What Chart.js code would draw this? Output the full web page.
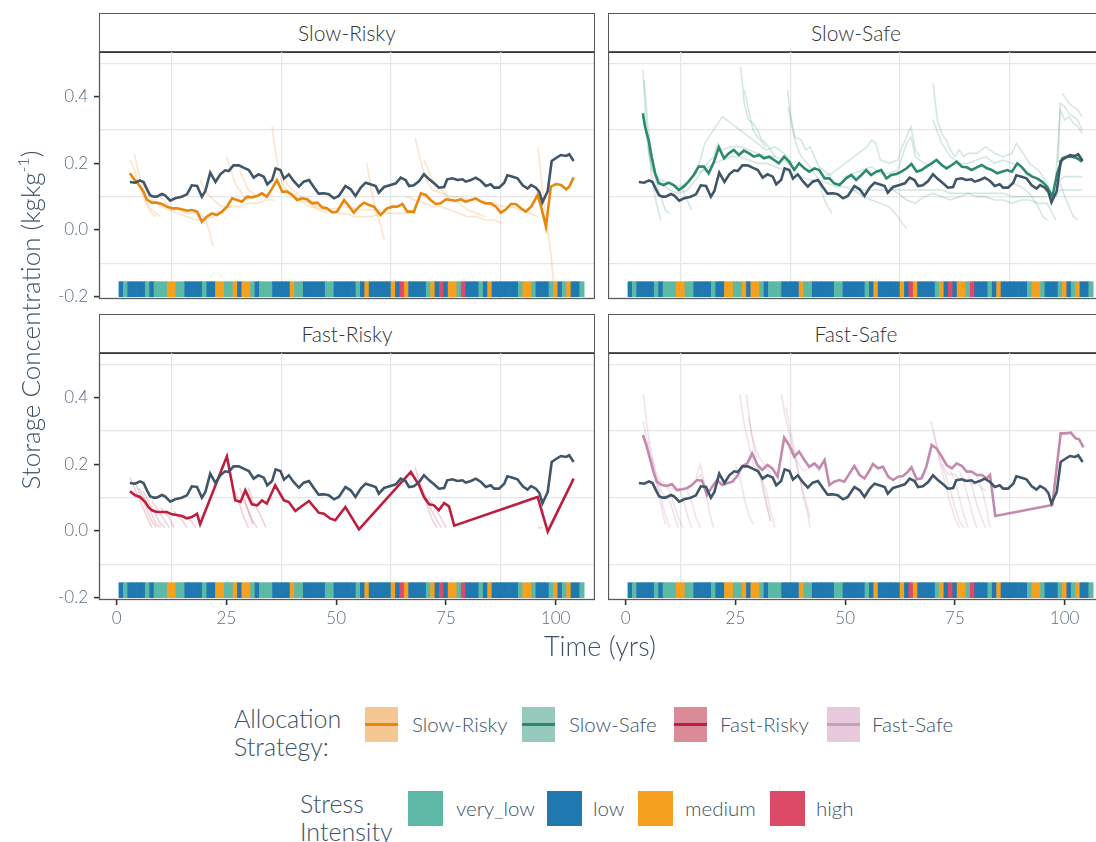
<!DOCTYPE html>
<html><head><meta charset="utf-8">
<script src="https://cdn.jsdelivr.net/npm/chart.js@4.4.0/dist/chart.umd.min.js"></script>
<style>
html,body{margin:0;padding:0;width:1096px;height:842px;overflow:hidden;background:#fff;font-family:Lato,"Open Sans",sans-serif;}
.abs{position:absolute;}
.strip{position:absolute;box-sizing:border-box;border:1.5px solid #5a5a5a;border-bottom:2.5px solid #333;background:#fff;color:#333;font-size:21px;font-weight:300;display:flex;align-items:center;justify-content:center;}
.ytitle{position:absolute;left:-220px;top:303px;width:500px;height:34px;line-height:34px;text-align:center;font-size:26px;font-weight:300;color:#3c5166;transform:rotate(-90deg);white-space:nowrap;}
.ytitle sup{font-size:16px;vertical-align:11px;line-height:0;}
.xtitle{position:absolute;left:450px;top:629px;width:300px;text-align:center;font-size:27px;font-weight:300;color:#3c5166;line-height:34px;}
.lgtitle{position:absolute;font-size:25px;font-weight:300;line-height:28px;color:#3c5166;}
.key{position:absolute;width:33px;height:35px;}
.key i{position:absolute;left:0;right:0;top:16px;height:2.5px;display:block;}
.lab{position:absolute;font-size:20.5px;font-weight:300;color:#3c5166;line-height:24px;}
</style></head>
<body>
<div class="strip" style="left:99px;top:13px;width:496px;height:40px;">Slow-Risky</div>
<div class="strip" style="left:608px;top:13px;width:496px;height:40px;">Slow-Safe</div>
<div class="strip" style="left:99px;top:314px;width:496px;height:40px;">Fast-Risky</div>
<div class="strip" style="left:608px;top:314px;width:496px;height:40px;">Fast-Safe</div>
<canvas id="c1" class="abs" width="565" height="262" style="left:30px;top:51px"></canvas>
<canvas id="c2" class="abs" width="496" height="262" style="left:608px;top:51px"></canvas>
<canvas id="c3" class="abs" width="565" height="288" style="left:30px;top:352px"></canvas>
<canvas id="c4" class="abs" width="496" height="288" style="left:608px;top:352px"></canvas>
<div class="ytitle">Storage Concentration (kgkg<sup>-1</sup>)</div>
<div class="xtitle">Time (yrs)</div>

<div class="lgtitle" style="left:234px;top:704px;">Allocation<br>Strategy:</div>
<div class="key" style="left:365px;top:707px;background:#F5C893;"><i style="background:#E8870E"></i></div>
<div class="lab" style="left:412px;top:712px;">Slow-Risky</div>
<div class="key" style="left:522px;top:707px;background:#97C9BD;"><i style="background:#2B8A6E"></i></div>
<div class="lab" style="left:569px;top:712px;">Slow-Safe</div>
<div class="key" style="left:674px;top:707px;background:#D98C98;"><i style="background:#C0203F"></i></div>
<div class="lab" style="left:720px;top:712px;">Fast-Risky</div>
<div class="key" style="left:827px;top:707px;background:#E6C9DA;"><i style="background:#CB9DBA"></i></div>
<div class="lab" style="left:872px;top:712px;">Fast-Safe</div>

<div class="lgtitle" style="left:300px;top:789px;">Stress<br>Intensity</div>
<div class="key" style="left:408px;top:791px;width:35px;background:#5DB9A6;"></div>
<div class="lab" style="left:456px;top:796px;">very_low</div>
<div class="key" style="left:547px;top:791px;width:35px;background:#1F78B0;"></div>
<div class="lab" style="left:593px;top:796px;">low</div>
<div class="key" style="left:638px;top:791px;width:35px;background:#F5A01F;"></div>
<div class="lab" style="left:685px;top:796px;">medium</div>
<div class="key" style="left:770px;top:791px;width:35px;background:#DC4A68;"></div>
<div class="lab" style="left:816px;top:796px;">high</div>

<script>
// ---------------- DATA ----------------
// stress intensity per year 1..106 (V=very_low, L=low, M=medium, H=high)
const stressYears = Array.from({length:106},(_,i)=>i+1);
const stressCodes = [
 'L','V','L','L','L','L','V','L','V','V',
 'V','M','M','V','V','L','L','L','L','V',
 'L','L','M','M','V','V','M','L','M','M',
 'V','L','V','V','V','L','L','L','L','M',
 'V','V','L','L','L','L','L','V','V','L',
 'L','L','L','L','V','L','M','L','L','L',
 'L','L','M','L','H','M','L','L','L','L',
 'V','M','L','H','L','M','M','V','H','L',
 'L','L','V','L','M','L','L','L','L','L',
 'L','V','M','M','V','L','L','L','V','M',
 'L','V','M','L','L','V'];
const stressBand = [-0.2, -0.155];

// baseline (dark slate) series, same in every panel
const baseYears = [3.0,4.2,5.3,6.1,6.9,7.6,8.4,9.1,10.3,11.0,12.2,13.3,14.8,16.0,17.1,18.3,19.4,20.2,21.3,22.5,23.6,24.7,25.5,26.6,27.8,28.9,30.1,31.2,32.3,33.5,34.3,35.4,36.2,37.3,38.1,39.2,40.3,41.5,42.6,43.8,44.9,46.0,47.2,48.3,49.5,50.6,52.1,53.3,54.4,55.6,56.7,57.8,59.0,59.7,60.9,62.4,63.6,64.7,65.8,66.6,67.7,68.9,70.0,71.2,72.3,73.4,74.6,75.3,76.5,77.6,78.8,79.5,80.7,81.8,83.0,84.1,85.2,86.0,87.1,88.3,89.0,90.2,91.3,92.5,93.6,94.4,95.5,96.3,97.0,98.2,99.1,100.1,101.2,102.4,103.1,104.1];
const baseVals = [0.144,0.142,0.149,0.144,0.122,0.104,0.100,0.100,0.108,0.104,0.088,0.095,0.100,0.107,0.134,0.132,0.100,0.117,0.172,0.144,0.167,0.179,0.177,0.194,0.194,0.187,0.180,0.157,0.167,0.160,0.137,0.150,0.185,0.180,0.154,0.167,0.147,0.130,0.145,0.150,0.129,0.109,0.110,0.107,0.095,0.102,0.132,0.122,0.102,0.127,0.142,0.137,0.132,0.112,0.129,0.135,0.140,0.157,0.150,0.132,0.134,0.147,0.167,0.152,0.140,0.127,0.129,0.152,0.155,0.150,0.152,0.145,0.150,0.157,0.147,0.132,0.137,0.127,0.127,0.142,0.164,0.160,0.155,0.134,0.124,0.135,0.127,0.114,0.083,0.117,0.207,0.216,0.225,0.222,0.227,0.207];

// Slow-Risky main
const srYears = [3.0,3.8,4.9,6.1,6.8,8.0,9.1,10.3,11.4,12.6,13.7,14.8,16.0,17.1,18.3,19.4,20.5,21.7,22.8,24.0,25.1,26.3,27.4,28.5,29.7,30.8,32.0,33.1,34.2,35.4,36.5,37.7,38.8,40.0,41.1,42.2,43.4,44.5,45.7,46.8,47.9,49.1,50.2,51.8,52.9,54.0,55.2,56.3,57.5,58.6,60.1,61.6,62.8,63.9,65.1,66.2,67.7,69.3,70.4,71.5,72.7,73.8,75.0,76.1,77.2,78.4,79.5,80.7,81.8,83.0,84.1,85.2,86.4,87.5,88.7,89.8,90.9,92.1,93.2,94.4,95.9,96.7,97.8,98.9,100.1,101.2,102.4,103.1,104.1];
const srVals = [0.170,0.155,0.138,0.115,0.092,0.082,0.082,0.078,0.070,0.065,0.065,0.062,0.058,0.060,0.055,0.025,0.040,0.050,0.045,0.055,0.070,0.095,0.090,0.085,0.100,0.098,0.102,0.110,0.100,0.125,0.150,0.115,0.115,0.105,0.090,0.095,0.092,0.080,0.082,0.068,0.065,0.053,0.055,0.090,0.072,0.052,0.070,0.082,0.075,0.070,0.045,0.065,0.070,0.070,0.078,0.055,0.055,0.110,0.105,0.090,0.078,0.080,0.092,0.090,0.088,0.092,0.085,0.090,0.095,0.085,0.080,0.080,0.070,0.052,0.062,0.078,0.078,0.065,0.055,0.070,0.105,0.070,0.010,0.130,0.138,0.135,0.122,0.130,0.158];

// Slow-Safe main
const ssYears = [3.9,4.4,5.2,5.9,6.7,7.5,8.6,9.8,10.9,12.1,13.2,14.3,15.5,16.6,17.8,18.9,20.1,21.2,22.4,23.5,24.6,25.8,26.9,28.1,29.2,30.4,31.5,32.7,33.8,34.9,36.1,37.2,38.4,39.5,40.7,41.8,43.0,44.1,45.3,46.4,47.5,48.7,50.2,51.4,52.5,53.7,54.8,55.9,57.1,58.2,59.4,60.5,61.7,62.8,64.0,65.1,66.3,67.4,68.5,69.7,70.8,72.0,73.1,74.3,75.4,76.6,77.7,78.8,80.0,81.1,82.3,83.4,84.6,85.7,86.9,88.0,89.2,90.3,91.4,92.6,93.7,94.9,96.0,97.2,98.3,99.5,100.6,101.8,102.9,104.0];
const ssVals = [0.350,0.310,0.270,0.220,0.170,0.140,0.135,0.142,0.135,0.120,0.130,0.145,0.165,0.190,0.190,0.170,0.205,0.248,0.215,0.230,0.240,0.225,0.238,0.230,0.220,0.225,0.215,0.220,0.210,0.200,0.220,0.205,0.180,0.200,0.185,0.175,0.185,0.180,0.155,0.155,0.140,0.135,0.155,0.165,0.150,0.165,0.180,0.165,0.175,0.180,0.155,0.165,0.168,0.175,0.185,0.198,0.175,0.180,0.190,0.200,0.210,0.195,0.185,0.195,0.205,0.190,0.188,0.180,0.188,0.195,0.185,0.180,0.170,0.175,0.180,0.175,0.200,0.188,0.170,0.160,0.155,0.145,0.130,0.100,0.170,0.215,0.220,0.220,0.215,0.205];

// Fast-Risky main
const frYears = [3.0,4.2,5.3,6.5,7.2,8.0,9.1,10.3,11.4,12.6,13.7,14.8,16.0,17.1,18.3,19.0,25.1,27.0,28.2,29.3,30.8,32.0,33.1,34.2,36.1,38.1,39.2,40.7,41.9,43.8,46.0,47.2,48.7,49.8,52.1,55.2,67.0,68.9,70.0,71.2,72.3,73.4,74.6,75.7,76.9,95.9,98.2,104.1];
const frVals = [0.119,0.107,0.102,0.087,0.072,0.062,0.057,0.057,0.057,0.050,0.048,0.045,0.038,0.042,0.052,0.020,0.224,0.092,0.087,0.122,0.080,0.077,0.092,0.082,0.137,0.092,0.087,0.060,0.072,0.090,0.055,0.052,0.037,0.032,0.072,0.005,0.177,0.137,0.102,0.080,0.077,0.062,0.084,0.074,0.016,0.102,-0.002,0.157];

// Fast-Safe main
const fsYears = [3.9,4.8,5.6,6.3,7.1,8.2,9.4,10.5,11.7,12.8,13.9,15.1,16.2,17.4,18.5,19.7,20.8,22.0,23.1,24.3,25.4,26.6,27.7,28.8,30.0,31.1,32.3,33.4,34.6,36.1,37.2,38.4,39.5,40.7,41.8,43.0,44.1,45.3,46.4,47.5,48.7,49.8,51.0,52.1,53.3,54.4,55.6,56.3,57.5,58.6,59.8,60.9,62.1,63.2,64.3,65.1,66.3,67.4,68.5,69.7,70.8,72.0,73.1,74.3,75.4,76.6,77.7,78.8,80.0,81.1,82.3,83.0,84.2,97.2,99.1,100.2,101.4,102.5,103.3,104.3];
const fsVals = [0.288,0.253,0.213,0.178,0.148,0.138,0.135,0.141,0.123,0.125,0.128,0.138,0.153,0.151,0.108,0.133,0.153,0.138,0.143,0.148,0.165,0.195,0.203,0.233,0.198,0.183,0.198,0.188,0.163,0.280,0.258,0.223,0.238,0.213,0.193,0.203,0.188,0.213,0.138,0.148,0.153,0.148,0.173,0.195,0.168,0.158,0.183,0.201,0.188,0.193,0.163,0.153,0.163,0.165,0.178,0.191,0.155,0.158,0.193,0.258,0.248,0.223,0.198,0.188,0.203,0.195,0.178,0.178,0.168,0.168,0.158,0.168,0.045,0.078,0.293,0.293,0.295,0.278,0.275,0.251];

// faint ensemble lines ([year, value] pairs)
const srFaint = [
 [[3,0.21],[4,0.18],[5,0.14],[6,0.10],[7,0.07],[8,0.05],[9,0.04]],
 [[4,0.23],[5,0.17],[6,0.12],[7,0.08],[8,0.06],[10,0.04]],
 [[6,0.14],[8,0.09],[10,0.07],[12,0.06],[14,0.05],[16,0.04],[18,0.03],[20,0.03],[22,0.04],[24,0.06],[26,0.07],[28,0.07],[30,0.08],[32,0.08],[34,0.09],[36,0.09]],
 [[10,0.10],[12,0.07],[14,0.06],[16,0.05],[18,0.05],[20,0.04],[21,0.0],[22,-0.05]],
 [[19,0.15],[20,0.12],[22,0.09],[24,0.07],[26,0.07]],
 [[25,0.22],[26,0.18],[27,0.14],[28,0.12],[29,0.10],[30,0.09]],
 [[28,0.18],[29,0.15],[30,0.12],[32,0.10]],
 [[35.4,0.31],[36,0.25],[37,0.17],[38,0.13],[40,0.11],[42,0.09],[44,0.08],[46,0.07],[48,0.06],[50,0.05],[52,0.05],[54,0.04],[56,0.04],[58,0.04],[60,0.05],[62,0.05],[64,0.05],[66,0.05],[68,0.05]],
 [[38,0.15],[40,0.12],[42,0.10],[44,0.08],[46,0.06],[48,0.05]],
 [[40,0.10],[44,0.07],[48,0.06],[52,0.07],[56,0.06],[60,0.06],[64,0.07]],
 [[57,0.20],[58,0.12],[59,0.06],[60,0.02],[61,-0.03]],
 [[68,0.275],[69,0.22],[70,0.17],[71,0.14],[72,0.12],[74,0.11],[76,0.10],[78,0.10],[80,0.09],[82,0.09],[84,0.08],[86,0.08],[88,0.07],[90,0.07],[92,0.06],[94,0.05],[96,0.04]],
 [[70,0.21],[72,0.15],[74,0.12],[76,0.09],[78,0.08],[80,0.06],[82,0.05],[84,0.04]],
 [[66,0.10],[68,0.09],[70,0.08],[72,0.07],[74,0.07],[76,0.06],[78,0.05],[80,0.04],[82,0.04],[84,0.03],[86,0.03],[88,0.02]],
 [[96,0.245],[97,0.12],[98,0.02],[99,-0.08],[99.5,-0.16]],
 [[95,0.11],[96,0.09],[97,0.05],[98,0.0]]
];
const ssFaint = [
 [[3.9,0.48],[4.5,0.35],[5.2,0.25],[6,0.15],[7,0.08],[8,0.03]],
 [[4.2,0.45],[5,0.32],[6,0.22],[7,0.14],[8,0.10],[9,0.06],[10,0.05]],
 [[4.5,0.30],[5.5,0.22],[6.5,0.17],[8,0.14],[10,0.12],[12,0.11],[14,0.12],[16,0.15],[18,0.19],[20,0.22],[21,0.26],[22,0.24],[24,0.25],[26,0.25],[28,0.24],[30,0.23],[32,0.22],[34,0.22],[36,0.21],[38,0.19]],
 [[5,0.25],[6,0.18],[8,0.15],[10,0.14],[12,0.13],[14,0.14],[16,0.17],[18,0.18],[20,0.20],[22,0.21],[24,0.22],[26,0.22],[28,0.21],[30,0.20],[32,0.20],[34,0.19],[36,0.18],[38,0.17],[40,0.16],[42,0.15],[44,0.15],[46,0.14],[48,0.13],[50,0.13],[52,0.12],[54,0.12],[56,0.12],[58,0.12],[60,0.12],[62,0.12],[64,0.12],[66,0.12],[68,0.12],[70,0.12],[72,0.12],[74,0.11],[76,0.11],[78,0.11],[80,0.11],[82,0.11],[84,0.11],[86,0.11],[88,0.10],[90,0.10],[92,0.10],[94,0.10],[96,0.10]],
 [[13,0.12],[14,0.09],[15,0.06]],
 [[16,0.17],[17,0.21],[18,0.26],[20,0.30],[21,0.32],[22,0.34],[24,0.32],[26,0.30],[28,0.28],[30,0.26],[32,0.24],[34,0.25],[36,0.23],[38,0.20]],
 [[26.2,0.49],[27,0.38],[28,0.33],[29,0.32],[30,0.30],[31,0.27],[32,0.26],[33,0.24],[34,0.22]],
 [[27,0.42],[28,0.36],[29,0.30],[30,0.28],[32,0.25]],
 [[36.9,0.42],[37.5,0.35],[38.5,0.28],[40,0.27],[41,0.24],[42,0.25],[43,0.22],[44,0.19],[45,0.18],[46,0.17],[47,0.16]],
 [[37,0.37],[38,0.30],[39,0.25],[40,0.22],[42,0.19],[44,0.15],[45,0.10],[46,0.07],[47,0.05]],
 [[45,0.16],[47,0.17],[49,0.19],[51,0.21],[53,0.23],[55,0.25],[56,0.27],[57,0.26],[58,0.21],[60,0.20],[62,0.21],[63,0.25],[64,0.28],[65,0.31],[66,0.24],[67,0.22]],
 [[50,0.16],[52,0.17],[54,0.18],[56,0.19],[58,0.17],[60,0.17],[62,0.18],[63,0.22],[64,0.26],[65,0.28],[66,0.22],[68,0.20],[70,0.19]],
 [[52,0.12],[54,0.10],[56,0.09],[58,0.08],[60,0.07],[62,0.04],[63,0.02],[64,0.005]],
 [[70,0.44],[71,0.33],[72,0.29],[73,0.27],[74,0.24],[75,0.22],[76,0.24],[77,0.22],[78,0.23],[80,0.23],[82,0.25],[84,0.23],[86,0.22],[88,0.23],[89,0.26],[90,0.24],[92,0.20],[94,0.18],[96,0.14],[97,0.10]],
 [[70,0.33],[72,0.26],[74,0.22],[76,0.20],[78,0.20],[80,0.21],[82,0.22],[84,0.20],[86,0.21],[88,0.20],[90,0.19],[92,0.17],[94,0.15],[96,0.12]],
 [[60,0.13],[62,0.11],[64,0.09],[66,0.08],[68,0.10],[70,0.11],[72,0.10],[74,0.09],[76,0.10],[78,0.11],[80,0.10],[82,0.10],[84,0.09],[86,0.09],[88,0.08],[90,0.09],[92,0.09],[94,0.08],[96,0.08],[98,0.03]],
 [[88,0.14],[90,0.13],[92,0.11],[94,0.07],[95,0.04],[96,0.03]],
 [[98,0.16],[99,0.36],[100,0.33],[101,0.34],[102,0.32],[103,0.31],[104,0.29]],
 [[98.5,0.20],[99,0.38],[100,0.37],[101,0.35],[102,0.34],[103,0.33],[104,0.30]],
 [[99.5,0.41],[101,0.38],[102,0.37],[103,0.36],[104,0.34]],
 [[98,0.10],[99,0.15],[100,0.16],[102,0.16],[104,0.16]],
 [[98,0.10],[99,0.12],[100,0.12],[102,0.12],[104,0.12]],
 [[99,0.14],[100,0.10],[101,0.07],[102,0.04],[103,0.03]]
];
const frFaint = [
 [[3,0.16],[5,0.10],[7,0.04],[8,0.01]],
 [[4,0.15],[6,0.09],[8,0.03],[9,0.01]],
 [[5,0.13],[7,0.08],[9,0.02],[10,0.01]],
 [[6,0.12],[8,0.07],[10,0.02],[11,0.01]],
 [[8,0.09],[10,0.05],[12,0.01]],
 [[10,0.07],[12,0.04],[13,0.01]],
 [[13,0.06],[15,0.03],[16,0.01]],
 [[15,0.05],[17,0.03],[18,0.01]],
 [[27,0.12],[28,0.08],[29,0.04],[30,0.01]],
 [[28,0.13],[29,0.09],[31,0.03],[32,0.01]],
 [[30,0.13],[31,0.09],[33,0.04],[34,0.01]],
 [[29,0.10],[30,0.06],[31,0.02]],
 [[68,0.19],[70,0.10],[72,0.03],[73,0.01]],
 [[69,0.15],[71,0.08],[73,0.03],[74,0.01]],
 [[71,0.10],[73,0.06],[75,0.01]],
 [[96,0.01],[97,0.01]]
];
const fsFaint = [
 [[4,0.41],[5,0.30],[6,0.22],[7,0.17],[8,0.15],[10,0.13],[12,0.12],[14,0.13],[16,0.15],[17,0.17],[18,0.13]],
 [[4,0.33],[5,0.25],[6,0.19],[7,0.15],[8,0.10],[9,0.05],[10,0.01]],
 [[5,0.27],[6,0.20],[7,0.14],[8,0.08],[9,0.02]],
 [[6,0.22],[7,0.16],[8,0.12],[10,0.09],[11,0.05],[12,0.01]],
 [[9,0.14],[10,0.12],[11,0.08],[12,0.04],[13,0.01]],
 [[12,0.13],[13,0.10],[14,0.05],[15,0.01]],
 [[14,0.12],[15,0.09],[16,0.04],[17,0.01]],
 [[16,0.16],[17,0.20],[18,0.14],[19,0.06],[20,0.01]],
 [[25,0.20],[26,0.16],[27,0.10],[28,0.05],[29,0.02]],
 [[26,0.41],[27,0.32],[28,0.26],[29,0.20],[30,0.18],[31,0.16],[32,0.12],[33,0.06],[34,0.01]],
 [[27.5,0.41],[28.5,0.30],[29.5,0.25],[30.5,0.22],[31.5,0.20],[32.5,0.18],[34,0.15]],
 [[28,0.34],[29,0.27],[30,0.20],[31,0.14],[32,0.08],[33,0.03]],
 [[30,0.20],[31,0.15],[32,0.09],[33,0.03]],
 [[35.5,0.41],[36.5,0.33],[37.5,0.28],[38.5,0.22],[39.5,0.20],[40.5,0.18],[42,0.19],[43,0.20],[44,0.18],[45,0.20]],
 [[36.5,0.37],[37.5,0.30],[38.5,0.24],[39.5,0.17],[40.5,0.10],[41.5,0.05],[42,0.01]],
 [[38,0.25],[39,0.19],[40,0.14],[41,0.09],[42,0.04]],
 [[69.5,0.33],[70.5,0.28],[71.5,0.22],[72.5,0.19],[73.5,0.17],[75,0.17],[76,0.15],[77,0.16],[78,0.15],[79,0.14],[80,0.14],[81,0.13],[82,0.12]],
 [[70,0.30],[71,0.24],[72,0.18],[73,0.13],[74,0.08],[75,0.04],[76,0.01]],
 [[72,0.20],[73,0.16],[74,0.12],[75,0.07],[76,0.03],[77,0.01]],
 [[74,0.18],[75,0.15],[76,0.10],[77,0.05],[78,0.01]],
 [[76,0.18],[77,0.15],[78,0.10],[79,0.05],[80,0.01]],
 [[78,0.17],[79,0.13],[80,0.08],[81,0.04],[82,0.01]],
 [[80,0.17],[81,0.13],[82,0.08],[83,0.01]]
];

// axis ticks
const xTickVals = [0,12.5,25,37.5,50,62.5,75,87.5,100];
const yTickVals = [-0.2,-0.1,0.0,0.1,0.2,0.3,0.4,0.5];

// ---------------- DRAWING ----------------
const STRESS_COLORS = {V:'#5DB9A6', L:'#1F78B0', M:'#F5A01F', H:'#DC4A68'};
const BASE_COLOR = '#3F5569';
const X_MIN = -4.04, X_MAX = 108.97, Y_MIN = -0.207, Y_MAX = 0.537;

const zip = (xs, ys) => xs.map((x,i)=>({x:x, y:ys[i]}));
const pts = p => p.map(d=>({x:d[0], y:d[1]}));
const isMajorX = v => Math.abs(v % 25) < 1e-6;
const isMajorY = v => Math.abs(Math.round(v*10)) % 2 === 0;

const framePlugin = {
  id:'frame',
  afterDraw(chart){
    const a = chart.chartArea, c = chart.ctx;
    c.save();
    c.strokeStyle = '#5a5a5a'; c.lineWidth = 1.3;
    c.strokeRect(a.left+0.5, a.top+0.5, a.right-a.left-1, a.bottom-a.top-1);
    c.restore();
  }
};

function makePanel(id, cfg){
  const datasets = [];
  cfg.faint.forEach(f => datasets.push({
    type:'line', data:pts(f), borderColor:cfg.faintColor, borderWidth:1.6,
    pointRadius:0, tension:0, order:3
  }));
  datasets.push({
    type:'bar',
    data: stressYears.map((y,i)=>({x:y, y:stressBand.slice()})),
    backgroundColor: stressCodes.map(c=>STRESS_COLORS[c]),
    borderWidth:0, barPercentage:1, categoryPercentage:1, order:4
  });
  datasets.push({type:'line', data:zip(cfg.mainX, cfg.mainY), borderColor:cfg.mainColor,
    borderWidth:2.6, pointRadius:0, tension:0, order:1});
  datasets.push({type:'line', data:zip(baseYears, baseVals), borderColor:BASE_COLOR,
    borderWidth:2.6, pointRadius:0, tension:0, order:0});

  new Chart(document.getElementById(id), {
    type:'line',
    data:{datasets},
    plugins:[framePlugin],
    options:{
      responsive:false, animation:false, events:[],
      layout:{padding:0},
      plugins:{legend:{display:false}, tooltip:{enabled:false}},
      scales:{
        x:{
          type:'linear', min:X_MIN, max:X_MAX, offset:false,
          afterBuildTicks:s=>{ s.ticks = xTickVals.map(v=>({value:v})); },
          afterFit:s=>{ s.height = cfg.showX ? 40 : 14; s.paddingLeft = 0; s.paddingRight = 0; },
          border:{display:false},
          grid:{
            offset:false,
            color:c=> (c.tick && isMajorX(c.tick.value)) ? 'rgba(0,0,0,0)' : '#e6e6e6',
            lineWidth:1.2, drawTicks:cfg.showX, tickLength:5, tickWidth:1.6,
            tickColor:c=> (c.tick && isMajorX(c.tick.value)) ? '#333' : 'rgba(0,0,0,0)'
          },
          ticks:{display:cfg.showX, autoSkip:false, maxRotation:0, padding:3,
            color:'#5b6e80', font:{family:'Lato', size:17, weight:300},
            callback:v=> isMajorX(v) ? String(v) : ''}
        },
        y:{
          type:'linear', min:Y_MIN, max:Y_MAX,
          afterBuildTicks:s=>{ s.ticks = yTickVals.map(v=>({value:v})); },
          afterFit:s=>{ s.width = cfg.showY ? 69 : 0; s.paddingTop = 0; s.paddingBottom = 0; },
          border:{display:false},
          grid:{
            color:c=> (c.tick && isMajorY(c.tick.value)) ? 'rgba(0,0,0,0)' : '#e6e6e6',
            lineWidth:1.2, drawTicks:cfg.showY, tickLength:5, tickWidth:1.6,
            tickColor:c=> (c.tick && isMajorY(c.tick.value)) ? '#333' : 'rgba(0,0,0,0)'
          },
          ticks:{display:cfg.showY, autoSkip:false, padding:6,
            color:'#5b6e80', font:{family:'Lato', size:17, weight:300},
            callback:v=> isMajorY(v) ? v.toFixed(1) : ''}
        }
      }
    }
  });
}

makePanel('c1', {mainX:srYears, mainY:srVals, mainColor:'#E8870E', faint:srFaint, faintColor:'rgba(240,150,50,0.25)', showX:false, showY:true});
makePanel('c2', {mainX:ssYears, mainY:ssVals, mainColor:'#2B8A6E', faint:ssFaint, faintColor:'rgba(60,150,122,0.22)', showX:false, showY:false});
makePanel('c3', {mainX:frYears, mainY:frVals, mainColor:'#BE1E3D', faint:frFaint, faintColor:'rgba(190,30,60,0.2)', showX:true, showY:true});
makePanel('c4', {mainX:fsYears, mainY:fsVals, mainColor:'#C48AAD', faint:fsFaint, faintColor:'rgba(200,140,175,0.25)', showX:true, showY:false});
</script>
</body></html>
